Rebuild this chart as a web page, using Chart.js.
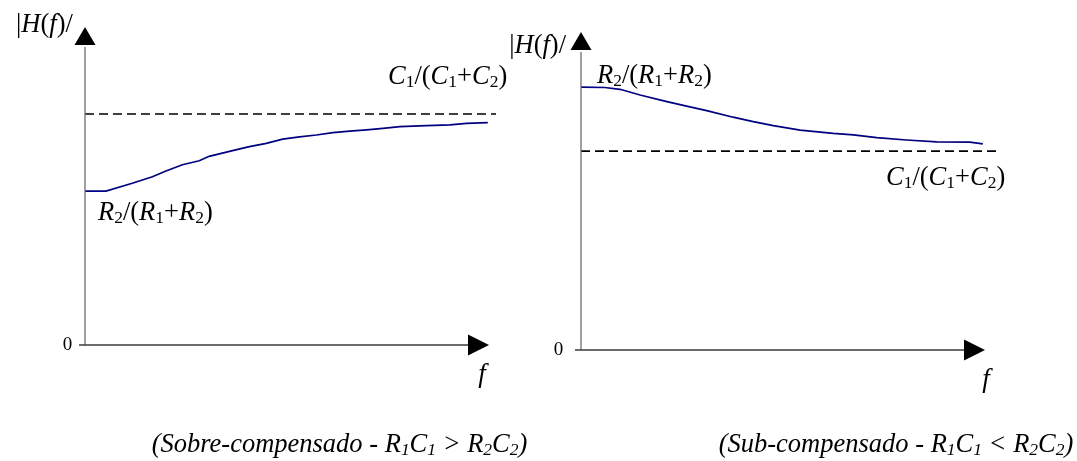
<!DOCTYPE html>
<html>
<head>
<meta charset="utf-8">
<script src="https://cdn.jsdelivr.net/npm/chart.js@4.4.1/dist/chart.umd.min.js"></script>
<style>
  html, body { margin: 0; padding: 0; background: #ffffff; }
  #wrap { position: relative; width: 1077px; height: 461px; overflow: hidden; }
  .panel { position: absolute; top: 0; height: 461px; }
</style>
</head>
<body>
<div id="wrap">
  <div class="panel" style="left:0;width:540px"><canvas id="cLeft" width="540" height="461"></canvas></div>
  <div class="panel" style="left:500px;width:577px"><canvas id="cRight" width="577" height="461"></canvas></div>
</div>
<script>
// ---- data (frequency in arbitrary units 0..100, |H(f)| normalised 0..1) ----
const leftFreq  = [0, 5.1, 11.5, 16.4, 19.7, 23.7, 27.8, 30.2, 35.9, 40.0, 44.1, 48.1, 52.2, 56.3, 60.3, 64.4, 68.5, 72.5, 76.6, 83.1, 88.8, 92.8, 98.0];
const leftGain  = [0.513, 0.513, 0.539, 0.561, 0.580, 0.601, 0.614, 0.629, 0.648, 0.661, 0.672, 0.686, 0.694, 0.700, 0.708, 0.713, 0.717, 0.722, 0.728, 0.731, 0.734, 0.739, 0.741];
const leftAsymptote = 0.77;

const rightFreq = [0, 5.7, 9.3, 14.1, 20.5, 25.2, 30.0, 36.3, 41.1, 45.9, 52.3, 60.2, 65.0, 70.6, 77.7, 84.9, 92.8, 95.9];
const rightGain = [0.876, 0.875, 0.869, 0.850, 0.828, 0.813, 0.798, 0.776, 0.761, 0.748, 0.733, 0.722, 0.717, 0.708, 0.700, 0.694, 0.693, 0.687];
const rightAsymptote = 0.663;

const asymptoteSpan = [0, 100];
const yTickLabels = ['0'];
const xAxisLabel = 'f';

// ---- rich text helpers ----
const N = t => ({ t });
const I = t => ({ t, i: true });
const S = t => ({ t, sub: true });

const yTitle      = [N('|'), I('H'), N('('), I('f'), N(')/')];
const cLabel      = [I('C'), S('1'), N('/('), I('C'), S('1'), N('+'), I('C'), S('2'), N(')')];
const rLabel      = [I('R'), S('2'), N('/('), I('R'), S('1'), N('+'), I('R'), S('2'), N(')')];
const leftCaption = [N('(Sobre-compensado - R'), S('1'), N('C'), S('1'), N(' > R'), S('2'), N('C'), S('2'), N(')')];
const rightCaption= [N('(Sub-compensado - R'), S('1'), N('C'), S('1'), N(' < R'), S('2'), N('C'), S('2'), N(')')];

const FONT = '"Liberation Serif", "Times New Roman", serif';

function drawRich(ctx, segs, x, y, size, align, allItalic) {
  const parts = segs.map(s => {
    const sz = s.sub ? size * 0.66 : size;
    const font = ((s.i || allItalic) ? 'italic ' : '') + sz + 'px ' + FONT;
    ctx.font = font;
    return { s, font, w: ctx.measureText(s.t).width, dy: s.sub ? size * 0.13 : 0 };
  });
  const total = parts.reduce((a, p) => a + p.w, 0);
  let cx = align === 'right' ? x - total : align === 'center' ? x - total / 2 : x;
  ctx.textBaseline = 'alphabetic';
  ctx.textAlign = 'left';
  parts.forEach(p => {
    ctx.font = p.font;
    ctx.fillText(p.s.t, cx, y + p.dy);
    cx += p.w;
  });
}

const decorPlugin = {
  id: 'decor',
  afterDraw(chart, args, o) {
    const ctx = chart.ctx;
    const x = chart.scales.x, y = chart.scales.y;
    const ox = x.getPixelForValue(0), oy = y.getPixelForValue(0);
    const top = y.getPixelForValue(1);
    ctx.save();
    // y axis
    ctx.strokeStyle = '#6e6e6e';
    ctx.lineWidth = 1.3;
    ctx.beginPath(); ctx.moveTo(ox, oy); ctx.lineTo(ox, top + 2); ctx.stroke();
    // x axis
    ctx.strokeStyle = '#3a3a3a';
    ctx.beginPath(); ctx.moveTo(ox - 6, oy); ctx.lineTo(ox + o.xArrowBase + 2, oy); ctx.stroke();
    ctx.fillStyle = '#000';
    // up arrow
    ctx.beginPath();
    ctx.moveTo(ox, top - 18); ctx.lineTo(ox - 10.5, top); ctx.lineTo(ox + 10.5, top); ctx.closePath(); ctx.fill();
    // right arrow
    ctx.beginPath();
    ctx.moveTo(ox + o.xArrowBase + 21, oy); ctx.lineTo(ox + o.xArrowBase, oy - 10.5); ctx.lineTo(ox + o.xArrowBase, oy + 10.5); ctx.closePath(); ctx.fill();
    // texts
    ctx.fillStyle = '#000';
    o.labels.forEach(l => drawRich(ctx, l.segs, l.x, l.y, l.size, l.align, l.italic));
    // tick "0"
    ctx.font = '19px ' + FONT;
    ctx.textAlign = 'center'; ctx.textBaseline = 'middle';
    ctx.fillText(yTickLabels[0], o.zeroX, oy);
    // axis label f
    ctx.font = 'italic 27px ' + FONT;
    ctx.textBaseline = 'alphabetic';
    ctx.fillText(xAxisLabel, ox + o.fDX, oy + 37);
    ctx.restore();
  }
};

function makeChart(id, freq, gain, asym, pad, decor) {
  const curve = freq.map((f, i) => ({ x: f, y: gain[i] }));
  const dash = asymptoteSpan.map(f => ({ x: f, y: asym }));
  return new Chart(document.getElementById(id), {
    type: 'line',
    data: {
      datasets: [
        { data: curve, borderColor: '#000080', borderWidth: 1.7, pointRadius: 0, tension: 0, fill: false },
        { data: dash, borderColor: '#000000', borderWidth: 1.6, borderDash: [9, 5], pointRadius: 0, fill: false }
      ]
    },
    options: {
      responsive: false,
      devicePixelRatio: 1,
      animation: false,
      layout: { padding: pad },
      plugins: { legend: { display: false }, tooltip: { enabled: false }, decor },
      scales: {
        x: { type: 'linear', min: 0, max: 100, display: false },
        y: { type: 'linear', min: 0, max: 1, display: false }
      }
    },
    plugins: [decorPlugin]
  });
}

makeChart('cLeft', leftFreq, leftGain, leftAsymptote,
  { left: 85, top: 45, right: 44, bottom: 116 },
  {
    xArrowBase: 383, zeroX: 67.5, fDX: 397,
    labels: [
      { segs: yTitle, x: 16, y: 32, size: 26.5, align: 'left' },
      { segs: cLabel, x: 388, y: 84, size: 26.5, align: 'left' },
      { segs: rLabel, x: 98, y: 220, size: 26.5, align: 'left' },
      { segs: leftCaption, x: 339.5, y: 452, size: 26.5, align: 'center', italic: true }
    ]
  });

makeChart('cRight', rightFreq, rightGain, rightAsymptote,
  { left: 81, top: 50, right: 77, bottom: 111 },
  {
    xArrowBase: 383, zeroX: 58.5, fDX: 405,
    labels: [
      { segs: yTitle, x: 66, y: 53, size: 26.5, align: 'right' },
      { segs: rLabel, x: 97, y: 83, size: 26.5, align: 'left' },
      { segs: cLabel, x: 386, y: 185, size: 26.5, align: 'left' },
      { segs: rightCaption, x: 396, y: 452, size: 26.5, align: 'center', italic: true }
    ]
  });
</script>
</body>
</html>
